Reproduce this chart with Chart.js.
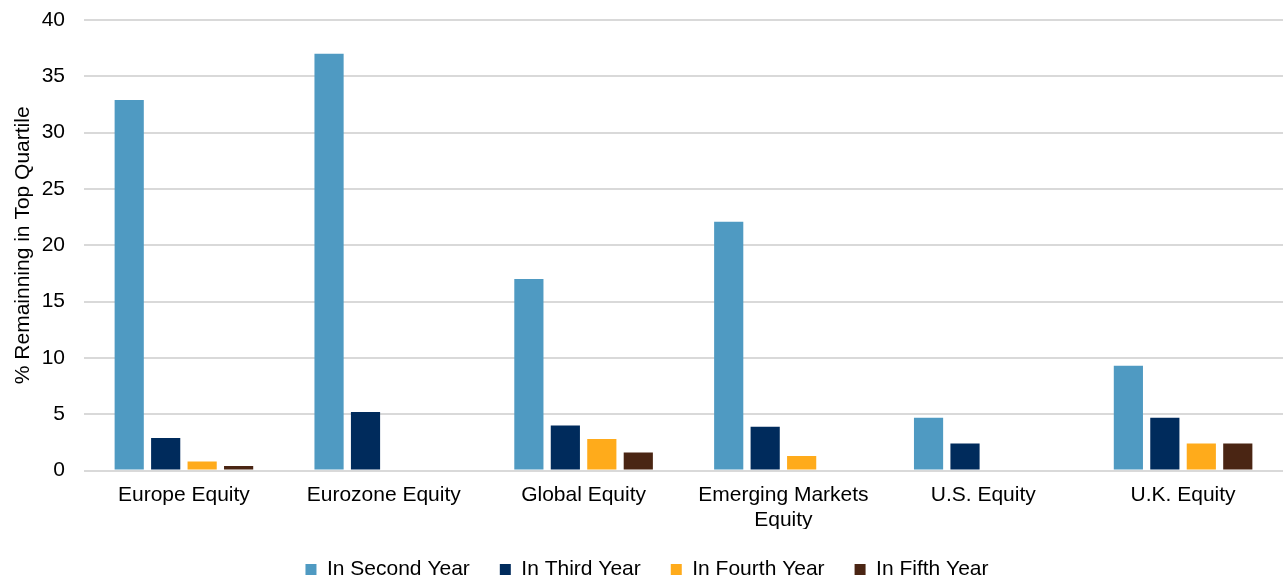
<!DOCTYPE html>
<html>
<head>
<meta charset="utf-8">
<script src="https://cdn.jsdelivr.net/npm/chart.js@4.4.0/dist/chart.umd.min.js"></script>
<style>
html,body{margin:0;padding:0;background:#fff;}
#wrap{width:1283px;height:580px;position:relative;}
</style>
</head>
<body>
<div id="wrap"><canvas id="c"></canvas></div>
<script>
const categories = ["Europe Equity", "Eurozone Equity", "Global Equity", ["Emerging Markets", "Equity"], "U.S. Equity", "U.K. Equity"];
const seriesNames = ["In Second Year", "In Third Year", "In Fourth Year", "In Fifth Year"];
const secondYear = [32.9, 37.0, 17.0, 22.1, 4.7, 9.3];
const thirdYear  = [2.9, 5.2, 4.0, 3.9, 2.4, 4.7];
const fourthYear = [0.8, null, 2.8, 1.3, null, 2.4];
const fifthYear  = [0.4, null, 1.6, null, null, 2.4];
const colors = ["#4F9AC2", "#002B5C", "#FFAB1B", "#4A2513"];
const yTicks = [0, 5, 10, 15, 20, 25, 30, 35, 40];

const allSeries = [secondYear, thirdYear, fourthYear, fifthYear];
const font = {family: "'Liberation Sans', Arial, sans-serif", size: 21};

new Chart(document.getElementById('c'), {
  type: 'bar',
  data: {
    labels: categories,
    datasets: allSeries.map((d, i) => ({
      label: seriesNames[i],
      data: d,
      backgroundColor: colors[i],
      borderWidth: 0,
      categoryPercentage: 0.73,
      barPercentage: 0.8
    }))
  },
  options: {
    responsive: true,
    maintainAspectRatio: false,
    animation: false,
    layout: {padding: {left: 11, right: 0, top: 20, bottom: -10}},
    plugins: {
      legend: {
        position: 'bottom',
        labels: {
          font: font,
          color: '#000',
          boxWidth: 11,
          boxHeight: 11,
          padding: 30
        }
      },
      tooltip: {enabled: false}
    },
    scales: {
      x: {
        grid: {display: false},
        border: {display: false},
        ticks: {font: font, color: '#000', maxRotation: 0, autoSkip: false, padding: 4},
        afterFit: (axis) => { axis.height -= 8; }
      },
      y: {
        min: 0, max: 40,
        afterBuildTicks: (axis) => { axis.ticks = yTicks.map(v => ({value: v})); },
        afterFit: (axis) => { axis.width = 73; axis.paddingTop = 0; },
        grid: {color: '#d9d9d9', lineWidth: 2, drawTicks: false},
        border: {display: false},
        ticks: {font: font, color: '#000', padding: 19},
        title: {display: true, text: '% Remainning in Top Quartile', font: font, color: '#000', padding: {top: 0, bottom: 7}}
      }
    }
  }
});
</script>
</body>
</html>
